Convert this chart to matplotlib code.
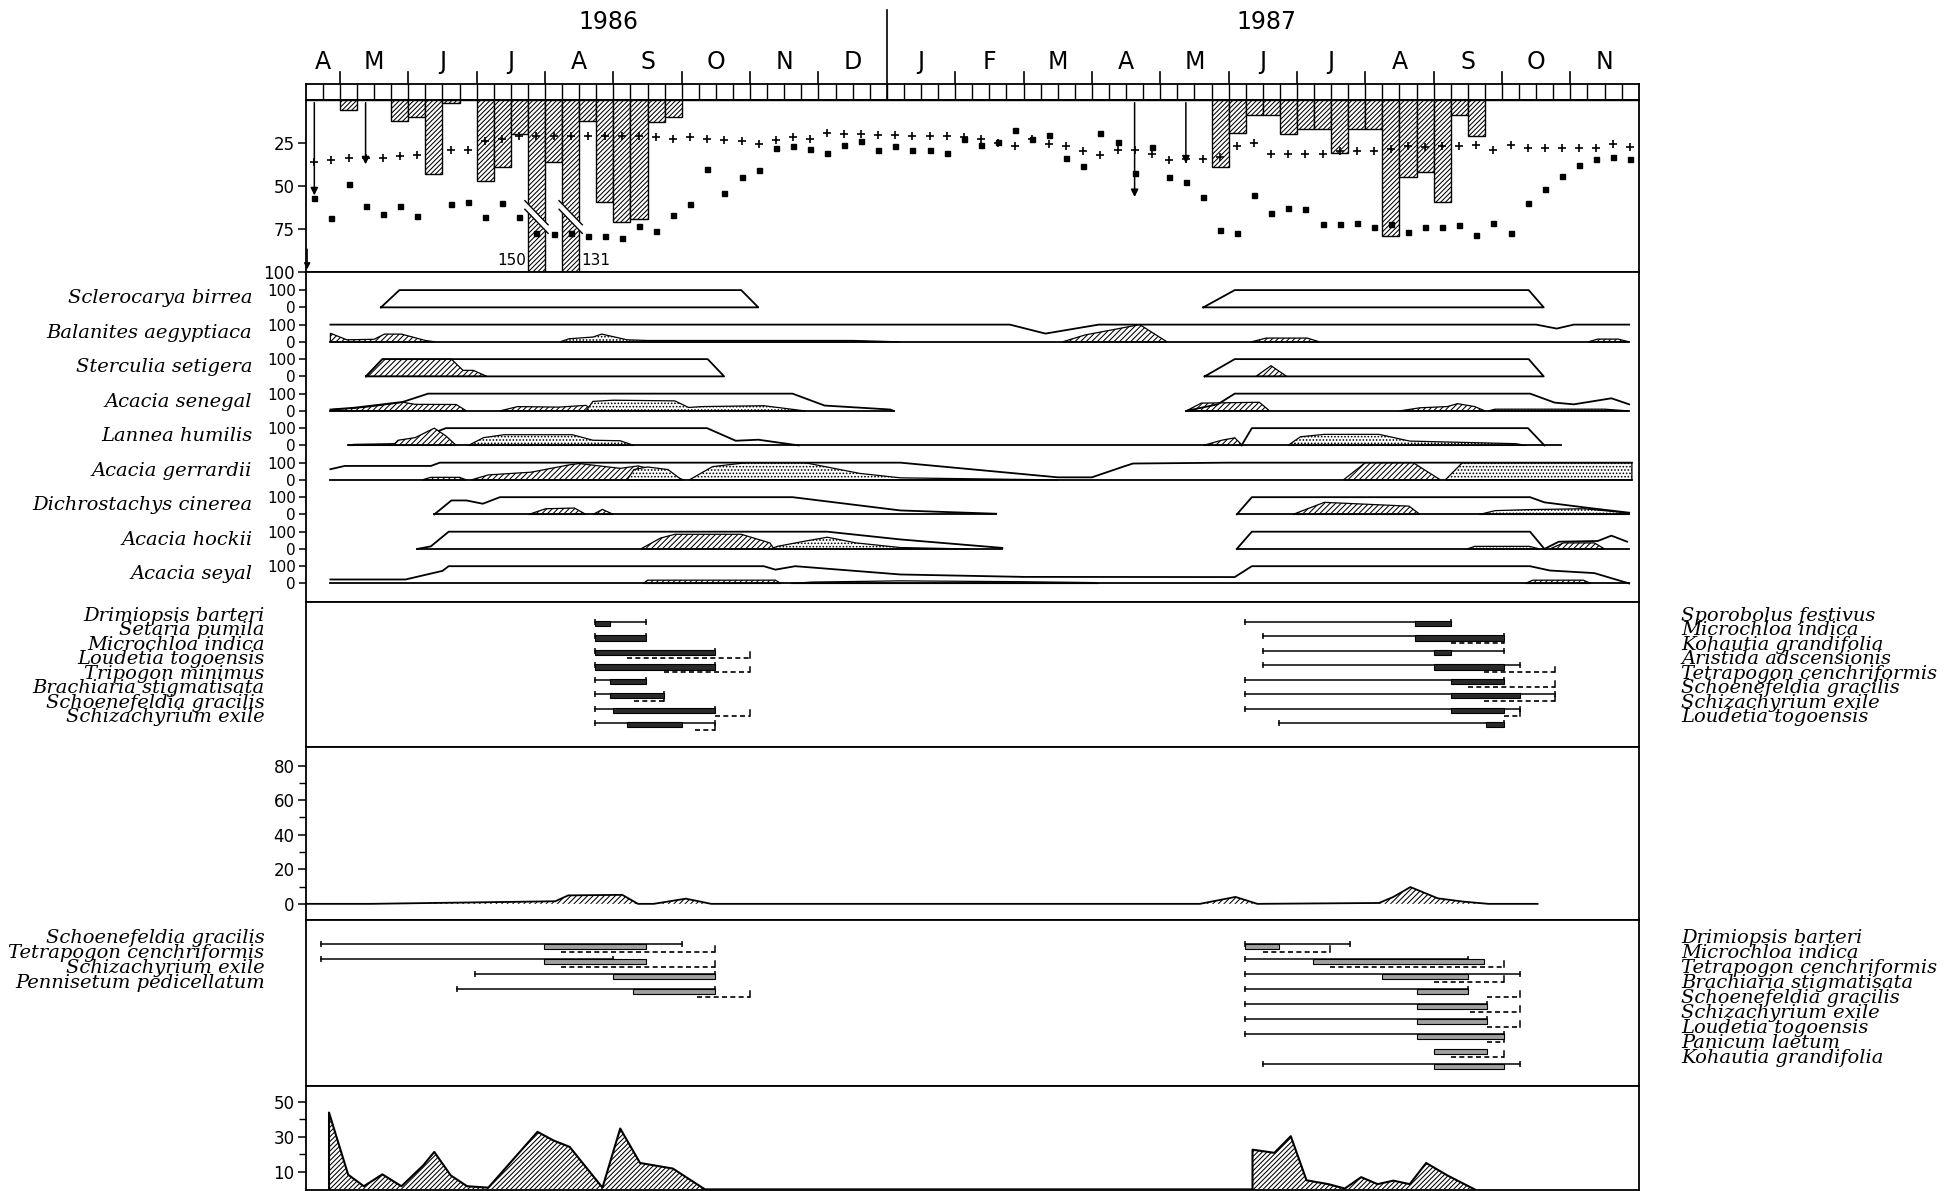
import matplotlib
matplotlib.use("Agg")
import matplotlib.pyplot as plt
import numpy as np
from matplotlib.patches import Polygon, Rectangle
from matplotlib.transforms import blended_transform_factory

plt.rcParams["hatch.linewidth"] = 0.75
plt.rcParams["font.family"] = "DejaVu Sans"

# time axis: months counted from 1 April 1986 (Jan 1987 = 9)
T0, T1 = 0.5, 20.0
WEEK = 0.25

month_labels = ["A", "M", "J", "J", "A", "S", "O", "N", "D", "J",
                "F", "M", "A", "M", "J", "J", "A", "S", "O", "N"]
month_centers = [0.75] + [m + 0.5 for m in range(1, 20)]
year_labels = ["1986", "1987"]

# weekly rainfall (mm), weekly "+" and "■" series (same 0-100 scale, downwards)
rain = [0, 0, 6, 0, 0, 12, 10, 43, 2, 0, 47, 39, 20, 150, 36, 131, 12, 59, 71, 69,
        13, 10, 0, 0, 0, 0, 0, 0, 0, 0, 0, 0, 0, 0, 0, 0, 0, 0, 0, 0,
        0, 0, 0, 0, 0, 0, 0, 0, 0, 0, 0, 0, 0, 39, 19, 9, 9, 20, 17, 17,
        31, 17, 17, 79, 45, 42, 59, 9, 21, 0, 0, 0, 0, 0, 0, 0, 0, 0]
temp = [36, 35, 34, 33.5, 33.5, 32.7, 32.1, np.nan, 28.9, 28.9, 24, 23, 21, 20.8, 20.8, 21.2,
        20.8, 20.8, 20.8, 21.2, 21.7, 23, 21.7, 22.7, 23.5, 24, 25.4, 23.5, 21.7, 23,
        19, 19.6, 19.6, 20.2, 20.2, 20.8, 21.2, 21.2, 21.5, 22.7, 25, 27, 23, 25.8,
        26.7, 29.6, 32.1, 29.2, 29.2, 31.5, 35, 34.6, 34.6, 33, 26.7, 24.8, 31.5, 31.5,
        31.5, 31.2, 29.6, 29.6, 29.6, 28.8, 26.7, 27.3, 26.7, 26.7, 26.3, 29.2, 26.3,
        27.9, 27.9, 27.9, 27.9, 27.9, 25.8, 27.3]
humid = [57, 68.7, 48.9, 61.4, 66.3, 61.6, 67.4, np.nan, 60.6, 59, 67.7, 59.6, 67.7, 77, 78,
         77, 79, 79, 80.4, 73, 76, 67, 60.6, 40, 54, 44.6, 40.8, 27.9, 27, 28.5, 30.8,
         26.3, 24, 29.2, 27, 29.2, 29.2, 31, 23, 26, 24.6, 17.7, 23, 20.6, 34, 38.3,
         19.2, 24.4, 42.7, 27.3, 44.6, 47.5, 56.5, 75.4, 77.3, 55.2, 65.8, 62.9, 63.5,
         72, 72, 71.5, 73.8, 72, 76.9, 73.5, 73.8, 72.5, 78.3, 71.5, 77.3, 59.6, 51.9,
         44.2, 37.9, 34.6, 33, 34.6]
arrow_weeks = [0, 3, 48, 51]
arrow_depth = [57, 39, 58, 38.5]
broken_weeks = [13, 15]

# tree phenology: leaf envelope (%), flowering (hatched), fruiting (stippled)
tree_names = ["Sclerocarya birrea", "Balanites aegyptiaca", "Sterculia setigera",
              "Acacia senegal", "Lannea humilis", "Acacia gerrardii",
              "Dichrostachys cinerea", "Acacia hockii", "Acacia seyal"]

scl_leaf = [[(1.6, 0), (1.87, 100), (6.87, 100), (7.12, 0), (1.6, 0)],
            [(13.63, 0), (14.09, 100), (18.39, 100), (18.61, 0), (13.63, 0)]]
scl_base = []
scl_flower = []
scl_fruit = []

bal_leaf = [[(0.86, 100), (10.8, 100), (11.32, 48), (12.1, 100), (18.5, 100), (18.8, 77),
             (19.05, 100), (19.86, 100)]]
bal_base = [(0.86, 19.86)]
bal_flower = [[(0.86, 0), (0.86, 50), (1.1, 12), (1.5, 15), (1.65, 45), (1.9, 45), (2.25, 8), (2.4, 0)],
              [(11.57, 0), (11.9, 40), (12.7, 100), (13.1, 0)],
              [(14.33, 0), (14.55, 22), (15.15, 22), (15.33, 0)],
              [(19.26, 0), (19.4, 16), (19.7, 16), (19.86, 0)]]
bal_fruit = [[(4.22, 0), (4.35, 18), (4.7, 28), (4.83, 45), (5.0, 30), (5.2, 12), (5.5, 8),
              (8.5, 8), (9.2, 0)]]

ste_leaf = [[(1.38, 0), (1.62, 100), (6.38, 100), (6.62, 0), (1.38, 0)],
            [(13.65, 0), (14.09, 100), (18.39, 100), (18.61, 0), (13.65, 0)]]
ste_base = []
ste_flower = [[(1.38, 0), (1.62, 100), (2.63, 100), (2.8, 35), (2.95, 35), (3.15, 0)],
              [(14.4, 0), (14.62, 62), (14.85, 0)]]
ste_fruit = []

sen_leaf = [[(0.86, 8), (1.2, 18), (1.92, 52), (2.29, 100), (7.62, 100), (8.09, 31), (9.05, 8), (9.1, 0)],
            [(13.38, 0), (13.84, 38), (14.09, 100), (18.41, 100), (18.77, 48), (19.05, 38),
             (19.6, 73), (19.86, 38)]]
sen_base = [(0.86, 9.1), (13.38, 19.86)]
sen_flower = [[(0.86, 0), (0.9, 8), (1.2, 15), (1.45, 25), (1.92, 50), (2.1, 38), (2.7, 37), (2.85, 0)],
              [(3.34, 0), (3.6, 25), (4.2, 22), (4.6, 32), (4.7, 0)],
              [(13.38, 0), (13.6, 45), (14.45, 50), (14.6, 0)],
              [(16.5, 0), (16.8, 18), (17.2, 25), (17.35, 42), (17.6, 25), (17.75, 0)]]
sen_fruit = [[(4.6, 0), (4.7, 55), (5.0, 62), (5.9, 58), (6.1, 20), (6.3, 25), (7.2, 30), (7.8, 0)],
             [(17.8, 0), (17.9, 10), (19.5, 10), (19.85, 0)]]

lan_leaf = [[(2.45, 85), (2.55, 100), (6.37, 100), (6.79, 27), (7.12, 33), (7.71, 0)],
            [(14.19, 0), (14.34, 100), (18.38, 100), (18.62, 0)]]
lan_base = [(1.12, 18.87)]
lan_flower = [[(1.12, 0), (1.2, 6), (1.8, 10), (1.85, 30), (2.1, 45), (2.38, 100), (2.55, 55), (2.7, 0)],
              [(13.63, 0), (13.9, 30), (14.09, 44), (14.2, 0)]]
lan_fruit = [[(2.88, 0), (3.1, 45), (3.4, 62), (4.4, 62), (4.7, 30), (5.1, 27), (5.3, 0)],
             [(14.87, 0), (15.05, 50), (15.4, 64), (16.2, 64), (16.65, 25), (18.2, 10), (18.35, 0)]]

ger_leaf = [[(0.86, 62), (1.07, 81), (2.33, 81), (2.46, 100), (9.2, 100), (11.5, 15), (12.0, 15),
             (12.46, 77), (12.6, 95), (14.0, 100), (19.9, 100)]]
ger_base = [(0.86, 19.9)]
ger_flower = [[(2.2, 0), (2.33, 15), (2.75, 15), (2.85, 0)],
              [(2.92, 0), (3.17, 29), (3.8, 45), (4.35, 87), (4.5, 95), (5.1, 67), (5.36, 81),
               (5.6, 60), (6.03, 0)],
              [(15.68, 0), (16.0, 100), (16.7, 100), (17.1, 0)]]
ger_fruit = [[(5.2, 0), (5.3, 60), (5.5, 75), (5.8, 60), (6.0, 0)],
             [(6.11, 0), (6.45, 77), (6.95, 100), (7.8, 100), (8.6, 38), (9.2, 12), (11.5, 0)],
             [(17.17, 0), (17.42, 100), (19.9, 100), (19.9, 0)]]

dic_leaf = [[(2.38, 0), (2.63, 81), (2.85, 81), (3.09, 62), (3.34, 100), (7.62, 100), (9.2, 23), (10.6, 4)],
            [(14.12, 0), (14.34, 100), (18.41, 100), (18.62, 70), (19.26, 38), (19.86, 10)]]
dic_base = [(2.38, 10.6), (14.12, 19.86)]
dic_flower = [[(3.76, 0), (4.01, 33), (4.43, 37), (4.6, 0)],
              [(4.7, 0), (4.84, 29), (5.0, 0)],
              [(14.94, 0), (15.4, 70), (16.64, 48), (16.8, 0)]]
dic_fruit = [[(17.67, 0), (17.9, 22), (18.4, 28), (19.2, 33), (19.86, 8), (19.86, 0)]]

hoc_leaf = [[(2.13, 0), (2.33, 15), (2.59, 100), (8.13, 100), (9.2, 55), (10.69, 6)],
            [(14.12, 0), (14.34, 100), (18.41, 100), (18.62, 0)],
            [(18.62, 0), (18.83, 42), (19.4, 46), (19.6, 77), (19.83, 42)]]
hoc_base = [(2.13, 10.69), (14.12, 19.86)]
hoc_flower = [[(5.4, 0), (5.69, 63), (5.9, 85), (6.87, 85), (7.29, 35), (7.35, 0)],
              [(18.7, 0), (18.9, 35), (19.35, 35), (19.5, 0)]]
hoc_fruit = [[(7.3, 0), (7.4, 15), (7.8, 45), (8.13, 68), (8.55, 35), (9.2, 8), (10.2, 0)],
             [(17.49, 0), (17.6, 15), (18.4, 15), (18.55, 0)]]

sey_leaf = [[(0.86, 23), (1.96, 23), (2.5, 73), (2.59, 100), (7.2, 100), (7.37, 80), (7.66, 100),
             (9.2, 52), (11.0, 38), (14.09, 37), (14.34, 100), (18.41, 100), (18.7, 75),
             (19.35, 60), (19.86, 0)]]
sey_base = [(0.86, 19.86)]
sey_flower = [[(5.44, 0), (5.5, 19), (7.37, 19), (7.45, 0)],
              [(18.34, 0), (18.45, 19), (19.19, 19), (19.3, 0)]]
sey_fruit = [[(7.6, 0), (7.9, 8), (9.2, 15), (11.0, 10), (12.03, 5), (12.1, 0)]]

tree_leaf = [scl_leaf, bal_leaf, ste_leaf, sen_leaf, lan_leaf, ger_leaf, dic_leaf, hoc_leaf, sey_leaf]
tree_base = [scl_base, bal_base, ste_base, sen_base, lan_base, ger_base, dic_base, hoc_base, sey_base]
tree_flower = [scl_flower, bal_flower, ste_flower, sen_flower, lan_flower, ger_flower, dic_flower,
               hoc_flower, sey_flower]
tree_fruit = [scl_fruit, bal_fruit, ste_fruit, sen_fruit, lan_fruit, ger_fruit, dic_fruit,
              hoc_fruit, sey_fruit]

# grasses, first block (vegetative line, flowering bar, seeding dashes)
g1_left = ["Drimiopsis barteri", "Setaria pumila", "Microchloa indica", "Loudetia togoensis",
           "Tripogon minimus", "Brachiaria stigmatisata", "Schoenefeldia gracilis",
           "Schizachyrium exile"]
g1_right = ["Sporobolus festivus", "Microchloa indica", "Kohautia grandifolia",
            "Aristida adscensionis", "Tetrapogon cenchriformis", "Schoenefeldia gracilis",
            "Schizachyrium exile", "Loudetia togoensis"]
g1_veg_86 = [(4.73, 5.47), (4.73, 5.47), (4.73, 6.48), (4.73, 6.48), (4.73, 5.47), (4.73, 5.74),
             (4.73, 6.48), (4.73, 6.48)]
g1_flw_86 = [(4.73, 4.95), (4.73, 5.47), (4.73, 6.48), (4.73, 6.48), (4.95, 5.47), (4.95, 5.74),
             (5.0, 6.48), (5.2, 6.0)]
g1_sd_86 = [None, None, (5.2, 7.0), (5.74, 7.0), None, (5.3, 5.74), (6.48, 7.0), (6.2, 6.48)]
g1_veg_87 = [(14.24, 17.25), (14.5, 18.03), (14.5, 18.03), (14.5, 18.27), (14.24, 18.03),
             (14.24, 18.77), (14.24, 18.27), (14.74, 18.03)]
g1_flw_87 = [(16.72, 17.25), (16.72, 18.03), (17.0, 17.25), (17.0, 18.03), (17.25, 18.03),
             (17.25, 18.27), (17.25, 18.03), (17.77, 18.03)]
g1_sd_87 = [None, (17.25, 18.03), None, (17.74, 18.77), (17.5, 18.77), (17.74, 18.77),
            (18.03, 18.27), None]

# herb cover (%)
herb_m = [0.5, 1.45, 4.15, 4.34, 5.13, 5.36, 5.59, 6.06, 6.43, 13.58, 14.1, 14.42,
          16.2, 16.41, 16.66, 17.06, 17.43, 17.8, 18.52]
herb_v = [0, 0, 1.5, 4.9, 5.2, 0, 0, 3, 0, 0, 4, 0, 0.5, 4, 9.7, 3.2, 1.3, 0, 0]

# grasses, second block
g2_left = ["Schoenefeldia gracilis", "Tetrapogon cenchriformis", "Schizachyrium exile",
           "Pennisetum pedicellatum"]
g2_right = ["Drimiopsis barteri", "Microchloa indica", "Tetrapogon cenchriformis",
            "Brachiaria stigmatisata", "Schoenefeldia gracilis", "Schizachyrium exile",
            "Loudetia togoensis", "Panicum laetum", "Kohautia grandifolia"]
g2_veg_86 = [(0.72, 6.0), (0.72, 4.99), (2.97, 6.48), (2.71, 6.48)]
g2_flw_86 = [(3.98, 5.47), (3.98, 5.47), (4.99, 6.48), (5.28, 6.48)]
g2_sd_86 = [(4.24, 6.48), (4.24, 6.48), None, (6.22, 7.0)]
g2_veg_87 = [(14.24, 15.77), (14.24, 17.5), (14.24, 18.27), (14.24, 17.5), (14.24, 17.78),
             (14.24, 17.78), (14.24, 18.03), None, (14.5, 18.27)]
g2_flw_87 = [(14.24, 14.74), (15.24, 17.74), (16.25, 17.5), (16.76, 17.5), (16.76, 17.78),
             (16.76, 17.78), (16.76, 18.03), (17.0, 17.78), (17.0, 18.03)]
g2_sd_87 = [(14.5, 15.49), (15.49, 18.03), (17.0, 18.03), (17.78, 18.27), (17.53, 18.27),
            (17.78, 18.27), (17.78, 18.03), (17.25, 18.03), None]

# bottom series
bot_m = [0.84, 0.84, 1.12, 1.35, 1.62, 1.9, 2.22, 2.38, 2.62, 2.86, 3.17, 3.89, 4.12, 4.36,
         4.84, 5.1, 5.39, 5.87, 6.34, 14.35, 14.35, 14.67, 14.91, 15.14, 15.46, 15.7, 15.94,
         16.18, 16.41, 16.65, 16.89, 17.2, 17.6]
bot_v = [0, 43.9, 8.4, 1.8, 8.6, 1.8, 13.8, 21.4, 8, 1.8, 1, 32.9, 28, 24.3, 1, 34.8, 15.1,
         11.9, 0, 0, 22.7, 20.9, 30.4, 5.2, 3, 0.5, 7, 3, 5, 3, 15.1, 8, 0]

# ---------------------------------------------------------------- layout
W, H = 1568.0, 954.0
X0, X1 = 245.0, 1313.0
LW = 1.3
fig = plt.figure(figsize=(19.57, 11.91), dpi=100)


def panel(top, bottom):
    ax = fig.add_axes([X0 / W, 1 - bottom / H, (X1 - X0) / W, (bottom - top) / H])
    ax.set_xlim(T0, T1)
    ax.set_xticks([])
    for s in ax.spines.values():
        s.set_linewidth(LW)
    ax.tick_params(axis="y", direction="out", length=6, width=1.1, pad=2, labelsize=12)
    return ax


def lab_x(px):
    return (px - X0) / (X1 - X0)


serif = dict(family="DejaVu Serif", style="italic")

# header with weekly boxes, months, years
ax_h = panel(67, 80)
ax_h.set_ylim(0, 1)
ax_h.set_yticks([])
edges = np.arange(T0, T1 + 1e-9, WEEK)
ax_h.vlines(edges[1:-1], 0, 1, color="black", lw=1.0)
tr = blended_transform_factory(ax_h.transData, ax_h.transAxes)
for m in range(1, 20):
    top = 5.54 if m == 9 else 1.69
    ax_h.axvline(m, 0 if m == 9 else 1, top, color="black", lw=1.2, clip_on=False)
for x, lab in zip(month_centers, month_labels):
    ax_h.text(x, 2.35, lab, transform=tr, ha="center", va="center", fontsize=17)
for x, lab in zip([4.93, 14.56], year_labels):
    ax_h.text(x, 4.8, lab, transform=tr, ha="center", va="center", fontsize=17)

# rainfall panel
ax_r = panel(80, 218)
ax_r.set_ylim(100, 0)
ax_r.set_yticks([25, 50, 75, 100])
centers = edges[:-1] + WEEK / 2
ax_r.bar(centers, rain, width=WEEK, bottom=0, facecolor="white", edgecolor="black",
         hatch="///////", lw=1.0, zorder=2)
for k in broken_weeks:
    x = centers[k]
    ax_r.plot([x - 0.17, x + 0.17], [61, 75], color="white", lw=5, zorder=3, solid_capstyle="butt")
    ax_r.plot([x - 0.17, x + 0.17], [58.5, 72.5], color="black", lw=1.0, zorder=3)
    ax_r.plot([x - 0.17, x + 0.17], [63.5, 77.5], color="black", lw=1.0, zorder=3)
ax_r.text(centers[broken_weeks[0]] - 0.15, 93, str(rain[broken_weeks[0]]), ha="right",
          va="center", fontsize=11)
ax_r.text(centers[broken_weeks[1]] + 0.15, 93, str(rain[broken_weeks[1]]), ha="left",
          va="center", fontsize=11)
ax_r.plot(centers, temp, "+", ms=6, mew=1.2, color="black", zorder=4)
ax_r.plot(centers, humid, "s", ms=3.6, color="black", zorder=4)
for k, d in zip(arrow_weeks, arrow_depth):
    ax_r.annotate("", xy=(centers[k], d), xytext=(centers[k], 0),
                  arrowprops=dict(arrowstyle="-|>", color="black", lw=1.1, mutation_scale=11),
                  zorder=5)
ax_r.annotate("", xy=(T0 + 0.02, 100), xytext=(T0 + 0.02, 85),
              arrowprops=dict(arrowstyle="-|>", color="black", lw=1.0, mutation_scale=9))

# tree panel
ax_t = panel(218, 482)
ax_t.set_ylim(-0.53, 9.02)
SCALE = 0.5 / 100
ticks, labels = [], []
for i in range(len(tree_names)):
    base = len(tree_names) - 1 - i
    ticks += [base, base + 0.5]
    labels += ["0", "100"]
    ax_t.text(lab_x(202), base + 0.27, tree_names[i], transform=blended_transform_factory(
        ax_t.transAxes, ax_t.transData), ha="right", va="center", fontsize=14, **serif)
    for a, b in tree_base[i]:
        ax_t.plot([a, b], [base, base], color="black", lw=LW)
    for poly in tree_flower[i]:
        xy = [(m, base + p * SCALE) for m, p in poly]
        ax_t.add_patch(Polygon(xy, closed=True, facecolor="white", edgecolor="black",
                               hatch="//////", lw=0.9))
    for poly in tree_fruit[i]:
        xy = [(m, base + p * SCALE) for m, p in poly]
        ax_t.add_patch(Polygon(xy, closed=True, facecolor="white", edgecolor="black",
                               hatch=".....", lw=0.9))
    for seg in tree_leaf[i]:
        ax_t.plot([m for m, _ in seg], [base + p * SCALE for _, p in seg], color="black", lw=LW)
ax_t.set_yticks(ticks, labels)
ax_t.tick_params(axis="y", labelsize=11, length=5)


def grass(ax, veg, flw, sd, face):
    for r in range(len(flw)):
        if veg[r]:
            ax.plot(veg[r], [r, r], color="black", lw=1.1, marker="|", ms=5, mew=1.1)
        if flw[r]:
            a, b = flw[r]
            ax.add_patch(Rectangle((a, r - 0.05), b - a, 0.35, facecolor=face,
                                   edgecolor="black", lw=0.8, zorder=3))
        if sd[r]:
            a, b = sd[r]
            ax.plot([a, b], [r + 0.5, r + 0.5], color="black", lw=1.2, ls=(0, (3, 2)))
            ax.plot([b, b], [r + 0.5, r + 0.1], color="black", lw=1.1)


def names(ax, left, right, dy=-0.42):
    tl = blended_transform_factory(ax.transAxes, ax.transData)
    for r, n in enumerate(left):
        ax.text(lab_x(212), r + dy, n, transform=tl, ha="right", va="center",
                fontsize=14, **serif)
    for r, n in enumerate(right):
        ax.text(lab_x(1347), r + dy, n, transform=tl, ha="left", va="center",
                fontsize=14, **serif)


ax_g1 = panel(482, 598)
ax_g1.set_ylim(8.62, -1.38)
ax_g1.set_yticks([])
grass(ax_g1, g1_veg_86, g1_flw_86, g1_sd_86, "#2a2a2a")
grass(ax_g1, g1_veg_87, g1_flw_87, g1_sd_87, "#2a2a2a")
names(ax_g1, g1_left, g1_right)

# herb cover panel
ax_p = panel(598, 737)
ax_p.set_ylim(-9.4, 91)
ax_p.set_yticks([0, 20, 40, 60, 80])
ax_p.set_yticks([10, 30, 50, 70], minor=True)
ax_p.tick_params(axis="y", which="minor", length=5, width=1.0)
ax_p.fill_between(herb_m, herb_v, 0, facecolor="white", edgecolor="black",
                  hatch="//////", lw=0)
ax_p.plot(herb_m, herb_v, color="black", lw=LW)

ax_g2 = panel(737, 870)
ax_g2.set_ylim(9.46, -1.625)
ax_g2.set_yticks([])
grass(ax_g2, g2_veg_86, g2_flw_86, g2_sd_86, "#a0a0a0")
grass(ax_g2, g2_veg_87, g2_flw_87, g2_sd_87, "#a0a0a0")
names(ax_g2, g2_left, g2_right)

# bottom panel
ax_b = panel(870, 953)
ax_b.set_ylim(-0.2, 59)
ax_b.set_yticks([10, 30, 50])
ax_b.set_yticks([20, 40], minor=True)
ax_b.tick_params(axis="y", which="minor", length=5, width=1.0)
ax_b.fill_between(bot_m, bot_v, 0, facecolor="white", edgecolor="black",
                  hatch="///////", lw=0)
ax_b.plot(bot_m, bot_v, color="black", lw=1.5)

fig.savefig("out.png", dpi=100, facecolor="white")
